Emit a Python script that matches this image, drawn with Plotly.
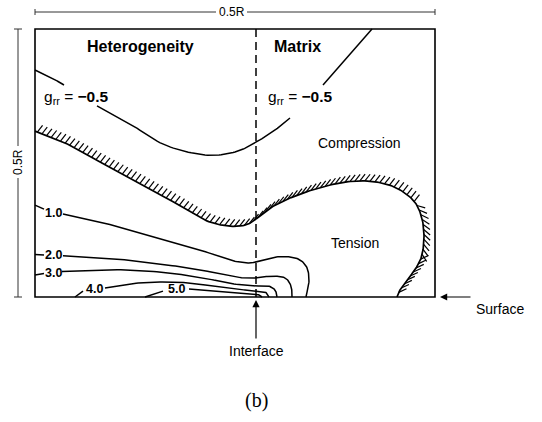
import numpy as np
import plotly.graph_objects as go

# ---------------------------------------------------------------------------
# Radial stress g_rr near a heterogeneity / matrix interface.
# Coordinates are percent of 0.5R: x from the left edge of the section,
# y = height above the free surface.
# ---------------------------------------------------------------------------
INTERFACE_X = 55.25

# g_rr = -0.5 contour (broken where its two labels sit)
neg05_a_x = [0.0, 3.75, 7.25]
neg05_a_y = [84.7, 82.1, 79.1]
neg05_b_x = [15.5, 23.75, 32.5, 42.5, 50.0, 55.25, 60.0, 63.75]
neg05_b_y = [71.3, 64.6, 56.7, 53.0, 54.1, 57.8, 62.3, 66.8]
neg05_c_x = [72.0, 77.5, 84.25]
neg05_c_y = [79.1, 88.4, 100.0]

# g_rr = 0 boundary between compression and tension (hatched)
zero_left_x = [0.0, 7.5, 16.25, 26.25, 35.0, 42.5, 48.25, 52.75, 55.25]
zero_left_y = [61.9, 57.5, 50.4, 42.5, 35.1, 28.7, 26.5, 26.9, 29.1]
zero_right_x = [55.25, 59.25, 66.25, 75.0, 82.5, 89.25, 94.25, 96.5, 97.25, 96.75, 95.25, 93.0, 91.25, 90.5]
zero_right_y = [29.1, 33.6, 38.4, 42.2, 43.3, 41.4, 36.6, 30.6, 23.1, 15.7, 10.8, 6.3, 2.6, 0.0]

# g_rr = 1.0
c1_a_x = [0.0, 2.25]
c1_a_y = [34.3, 32.8]
c1_b_x = [7.0, 16.25, 28.75, 41.25, 48.75, 53.25, 55.25, 60.0, 65.0, 67.75, 68.5, 67.75]
c1_b_y = [31.0, 28.0, 22.8, 17.5, 13.8, 12.7, 13.1, 14.9, 14.6, 11.6, 6.3, 0.0]

# g_rr = 2.0
c2_a_x = [0.0, 2.25]
c2_a_y = [15.9, 15.7]
c2_b_x = [7.0, 18.75, 31.25, 41.25, 48.75, 52.5, 55.25, 59.25, 62.5, 64.0, 64.25]
c2_b_y = [15.4, 14.4, 12.3, 10.1, 7.8, 7.1, 7.1, 7.8, 7.1, 4.1, 0.0]

# g_rr = 3.0
c3_a_x = [0.0, 2.25]
c3_a_y = [8.2, 8.8]
c3_b_x = [6.75, 18.75, 31.25, 41.25, 48.75, 55.25, 58.25, 60.0, 60.5]
c3_b_y = [9.5, 10.2, 9.3, 7.3, 5.1, 4.1, 4.1, 2.6, 0.0]

# g_rr = 4.0
c4_a_x = [10.0, 12.0]
c4_a_y = [0.0, 2.2]
c4_b_x = [17.5, 23.75, 31.25, 38.75, 46.25, 52.5, 55.25, 57.5, 58.5]
c4_b_y = [3.4, 4.9, 5.6, 5.2, 3.7, 2.6, 2.2, 1.9, 0.0]

# g_rr = 5.0
c5_a_x = [27.5, 32.0]
c5_a_y = [0.0, 2.2]
c5_b_x = [38.5, 45.0, 51.25, 55.25, 56.75]
c5_b_y = [3.0, 2.2, 1.5, 1.1, 0.0]

# contour value labels
value_labels = ["1.0", "2.0", "3.0", "4.0", "5.0"]
value_label_x = [4.6, 4.6, 4.6, 14.75, 35.25]
value_label_y = [31.3, 15.5, 9.0, 3.0, 3.0]

# g_rr = -0.5 labels
neg_label_x = [10.4, 66.4]
neg_label_y = [74.6, 74.6]

# region labels
region_text = ["<b>Heterogeneity</b>", "<b>Matrix</b>", "Compression", "Tension"]
region_x = [26.25, 65.5, 81.0, 80.0]
region_y = [93.3, 93.3, 57.5, 20.1]

# ---------------------------------------------------------------------------
# Page layout (pixels)
W, H = 542, 422
BOX_LEFT, BOX_RIGHT = 35.0, 435.0
BOX_TOP, SURFACE = 29.0, 297.0
SX = (BOX_RIGHT - BOX_LEFT) / 100.0   # px per unit, x
SY = (SURFACE - BOX_TOP) / 100.0      # px per unit, y

x_range = [-BOX_LEFT / SX, (W - BOX_LEFT) / SX]
y_range = [(SURFACE - H) / SY, SURFACE / SY]


def px_to_x(px):
    return (px - BOX_LEFT) / SX


def py_to_y(py):
    return (SURFACE - py) / SY


def smooth(xs, ys, n=14):
    """Catmull-Rom interpolation through the given points."""
    p = np.column_stack([xs, ys]).astype(float)
    if len(p) < 3:
        return p[:, 0], p[:, 1]
    ext = np.vstack([2 * p[0] - p[1], p, 2 * p[-1] - p[-2]])
    out = []
    for i in range(1, len(ext) - 2):
        p0, p1, p2, p3 = ext[i - 1], ext[i], ext[i + 1], ext[i + 2]
        for t in np.linspace(0, 1, n, endpoint=False):
            t2, t3 = t * t, t * t * t
            out.append(0.5 * ((2 * p1) + (-p0 + p2) * t
                              + (2 * p0 - 5 * p1 + 4 * p2 - p3) * t2
                              + (-p0 + 3 * p1 - 3 * p2 + p3) * t3))
    out.append(p[-1])
    out = np.array(out)
    return out[:, 0], out[:, 1]


def unit(deg):
    return np.array([np.cos(np.radians(deg)), np.sin(np.radians(deg))])


def hatch(xs, ys, spacing=5.0, length=8.5):
    """Short strokes on the compression side of a curve."""
    X = np.asarray(xs) * SX
    Y = np.asarray(ys) * SY
    seg = np.hypot(np.diff(X), np.diff(Y))
    s = np.concatenate([[0], np.cumsum(seg)])
    hx, hy = [], []
    steep, flat = unit(52), unit(25)
    for d in np.arange(spacing / 2, s[-1], spacing):
        i = int(np.clip(np.searchsorted(s, d) - 1, 0, len(seg) - 1))
        if seg[i] <= 0:
            continue
        f = (d - s[i]) / seg[i]
        px = X[i] + f * (X[i + 1] - X[i])
        py = Y[i] + f * (Y[i + 1] - Y[i])
        t = np.array([X[i + 1] - X[i], Y[i + 1] - Y[i]]) / seg[i]
        nrm = np.array([-t[1], t[0]])
        ang = np.degrees(np.arctan2(nrm[1], nrm[0]))
        if -20 <= ang <= 30:
            dv = (nrm + t) / np.sqrt(2)
        elif ang < -20:
            dv = flat
        else:
            dv = steep if steep @ nrm >= 0 else -steep
        qx, qy = px + length * dv[0], py + length * dv[1]
        hx += [px / SX, qx / SX, None]
        hy += [py / SY, qy / SY, None]
    return hx, hy


fig = go.Figure()


def add_curve(xs, ys, width=1.5):
    sx, sy = smooth(xs, ys)
    fig.add_trace(go.Scatter(x=sx, y=sy, mode="lines",
                             line=dict(color="black", width=width),
                             hoverinfo="skip", showlegend=False))
    return sx, sy


for cx, cy in [(neg05_a_x, neg05_a_y), (neg05_b_x, neg05_b_y), (neg05_c_x, neg05_c_y),
               (c1_a_x, c1_a_y), (c1_b_x, c1_b_y),
               (c2_a_x, c2_a_y), (c2_b_x, c2_b_y),
               (c3_a_x, c3_a_y), (c3_b_x, c3_b_y),
               (c4_a_x, c4_a_y), (c4_b_x, c4_b_y),
               (c5_a_x, c5_a_y), (c5_b_x, c5_b_y)]:
    add_curve(cx, cy)

# hatched zero-stress boundary
hx_all, hy_all = [], []
for cx, cy in [(zero_left_x, zero_left_y), (zero_right_x, zero_right_y)]:
    sx, sy = add_curve(cx, cy, width=1.7)
    hx, hy = hatch(sx, sy)
    hx_all += hx
    hy_all += hy
fig.add_trace(go.Scatter(x=hx_all, y=hy_all, mode="lines",
                         line=dict(color="black", width=1.2),
                         hoverinfo="skip", showlegend=False))

# section outline and interface
fig.add_shape(type="rect", x0=0, x1=100, y0=0, y1=100, line=dict(color="black", width=1.6))
fig.add_shape(type="line", x0=INTERFACE_X, x1=INTERFACE_X, y0=0, y1=100,
              line=dict(color="black", width=1.5, dash="8px,5px"))

# dimension lines (0.5R)
DIM_TOP_PY = 12.0
DIM_LEFT_PX = 18.0
gray = dict(color="#333", width=1)
ytop = py_to_y(DIM_TOP_PY)
fig.add_shape(type="line", x0=0, x1=px_to_x(216), y0=ytop, y1=ytop, line=gray)
fig.add_shape(type="line", x0=px_to_x(247), x1=100, y0=ytop, y1=ytop, line=gray)
for xe in (0, 100):
    fig.add_shape(type="line", x0=xe, x1=xe, y0=ytop - 3 / SY, y1=ytop + 3 / SY, line=gray)
xl = px_to_x(DIM_LEFT_PX)
fig.add_shape(type="line", x0=xl, x1=xl, y0=0, y1=py_to_y(178), line=gray)
fig.add_shape(type="line", x0=xl, x1=xl, y0=py_to_y(146), y1=100, line=gray)
for ye in (0, 100):
    fig.add_shape(type="line", x0=xl - 4 / SX, x1=xl + 4 / SX, y0=ye, y1=ye, line=gray)

FONT = "Liberation Sans, Arial, Helvetica, sans-serif"
fig.add_annotation(x=px_to_x(231.5), y=ytop, text="0.5R", showarrow=False,
                   font=dict(family=FONT, size=12, color="black"))
fig.add_annotation(x=xl, y=py_to_y(162), text="0.5R", showarrow=False, textangle=-90,
                   font=dict(family=FONT, size=12, color="black"))

for t, x, y in zip(value_labels, value_label_x, value_label_y):
    fig.add_annotation(x=x, y=y, text=f"<b>{t}</b>", showarrow=False,
                       font=dict(family=FONT, size=12.5, color="black"))

for x, y in zip(neg_label_x, neg_label_y):
    fig.add_annotation(x=x, y=y, text="g<sub>rr</sub> = <b>\u22120.5</b>", showarrow=False,
                       font=dict(family=FONT, size=15.5, color="black"))

for t, x, y in zip(region_text, region_x, region_y):
    size = 16 if t.startswith("<b>") else 14
    fig.add_annotation(x=x, y=y, text=t, showarrow=False,
                       font=dict(family=FONT, size=size, color="black"))

# pointers
fig.add_annotation(x=INTERFACE_X, y=py_to_y(300), ax=0, ay=40, text="", showarrow=True,
                   arrowhead=2, arrowsize=1.2, arrowwidth=1.2, arrowcolor="black")
fig.add_annotation(x=INTERFACE_X, y=py_to_y(351), text="Interface", showarrow=False,
                   font=dict(family=FONT, size=14, color="black"))
fig.add_annotation(x=px_to_x(440), y=0, ax=32, ay=0, text="", showarrow=True,
                   arrowhead=2, arrowsize=1.2, arrowwidth=1.2, arrowcolor="black")
fig.add_annotation(x=px_to_x(500), y=py_to_y(309), text="Surface", showarrow=False,
                   font=dict(family=FONT, size=14, color="black"))
fig.add_annotation(x=px_to_x(256), y=py_to_y(400), text="(b)", showarrow=False,
                   font=dict(family="Liberation Serif, Times New Roman, serif", size=20, color="black"))

fig.update_layout(
    width=W, height=H,
    margin=dict(l=0, r=0, t=0, b=0),
    paper_bgcolor="white", plot_bgcolor="white",
    xaxis=dict(range=x_range, visible=False, fixedrange=True),
    yaxis=dict(range=y_range, visible=False, fixedrange=True),
    showlegend=False,
)

fig.write_html("out.html")
